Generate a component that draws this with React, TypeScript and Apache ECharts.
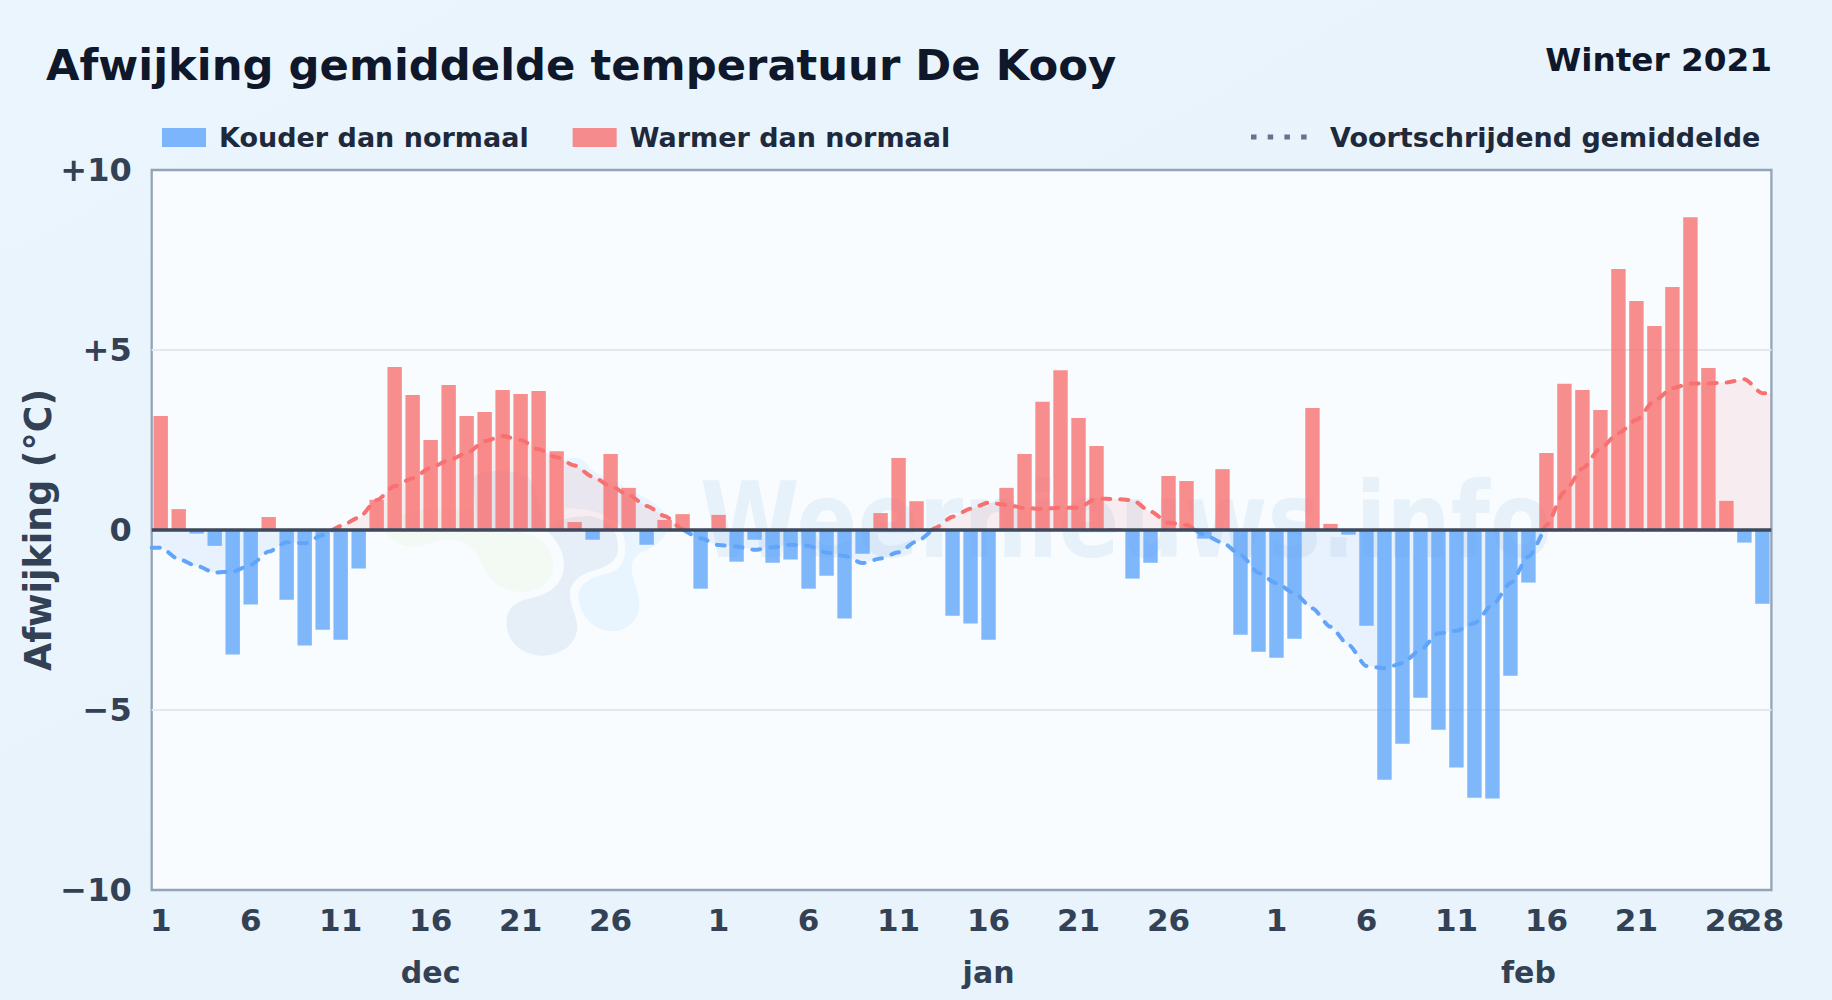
import React, { useEffect, useRef } from "react";
import * as echarts from "echarts";

const FONT = "DejaVu Sans";
const monthNames = ["dec", "jan", "feb"];
const monthLengths = [31, 31, 28];
const monthLabelIndex = [15, 46, 76];
const tickDays = [1, 6, 11, 16, 21, 26];
const yTicks: Record<string, string> = { "10": "+10", "5": "+5", "0": "0", "-5": "\u22125", "-10": "\u221210" };

const anomalies = [
  3.17, 0.58, -0.1, -0.44, -3.46, -2.07, 0.36, -1.94, -3.21, -2.77, -3.05, -1.07, 0.84, 4.53, 3.75, 2.5,
  4.03, 3.17, 3.28, 3.89, 3.78, 3.86, 2.19, 0.22, -0.27, 2.11, 1.17, -0.41, 0.28, 0.44, -1.63,
  0.42, -0.88, -0.27, -0.91, -0.82, -1.63, -1.27, -2.46, -0.66, 0.47, 2.0, 0.8, 0, -2.38, -2.6, -3.05,
  1.17, 2.11, 3.56, 4.44, 3.11, 2.33, 0.05, -1.35, -0.91, 1.5, 1.36, -0.24, 1.69, -2.91, -3.38,
  -3.55, -3.02, 3.39, 0.17, -0.13, -2.66, -6.94, -5.94, -4.66, -5.55, -6.6, -7.44, -7.46, -4.05, -1.46,
  2.14, 4.06, 3.89, 3.33, 7.25, 6.36, 5.67, 6.75, 8.69, 4.5, 0.81, -0.35, -2.05,
];

const movingAverage = [
  -0.49, -0.81, -1.0, -1.18, -1.16, -0.97, -0.6, -0.34, -0.37, -0.14, 0.11, 0.34, 0.83, 1.22, 1.44, 1.73,
  1.94, 2.13, 2.47, 2.61, 2.5, 2.24, 2.02, 1.79, 1.48, 1.22, 0.97, 0.67, 0.39, 0.02, -0.23,
  -0.42, -0.46, -0.55, -0.48, -0.41, -0.44, -0.63, -0.72, -0.92, -0.79, -0.62, -0.32, 0.05, 0.37, 0.59, 0.76,
  0.7, 0.61, 0.59, 0.62, 0.62, 0.87, 0.86, 0.83, 0.51, 0.2, 0.14, -0.14, -0.35, -0.69, -1.19,
  -1.48, -1.76, -2.18, -2.69, -3.19, -3.78, -3.84, -3.7, -3.33, -2.87, -2.8, -2.59, -2.08, -1.48, -0.74,
  0.14, 1.06, 1.71, 2.27, 2.69, 3.06, 3.59, 3.94, 4.07, 4.07, 4.1, 4.19, 3.8,
];

const dayLabels: string[] = [];
const monthAxisLabels: string[] = [];
monthLengths.forEach((len, m) => {
  for (let d = 1; d <= len; d++) {
    dayLabels.push(String(d));
    monthAxisLabels.push("");
  }
  monthAxisLabels[monthLabelIndex[m]] = monthNames[m];
});
const lastIndex = dayLabels.length - 1;
const shownTick = dayLabels.map((d, i) => tickDays.includes(Number(d)) && i !== lastIndex);
// The closing day sits on its own axis so that it may overlap "26", as it does in the reference
const lastDayLabels = dayLabels.map((d, i) => (i === lastIndex ? d : ""));

// Split the moving average into its positive and negative run, with the zero crossings added
function signedRun(values: number[], sign: number) {
  const ext: [number, number][] = [[-0.5, values[0]]];
  values.forEach((v, i) => ext.push([i, v]));
  ext.push([values.length - 0.5, values[values.length - 1]]);
  const out: [number, number | null][] = [];
  ext.forEach(([x, v], k) => {
    out.push([x, v * sign >= 0 ? v : null]);
    if (k < ext.length - 1) {
      const [x2, v2] = ext[k + 1];
      if (v * v2 < 0) out.push([x + ((x2 - x) * Math.abs(v)) / (Math.abs(v) + Math.abs(v2)), 0]);
    }
  });
  return out;
}

const LOGO_GREEN = "M40 270C60 300 100 325 140 320C180 315 210 295 250 300C300 305 325 340 345 390C370 440 420 460 470 455C530 445 555 410 550 370C545 320 510 285 460 280L455 260C400 210 300 200 200 205C120 210 60 230 40 270Z";
const LOGO_GREY = "M530 270C560 240 600 230 650 228C710 230 745 270 745 320C745 360 720 378 680 390C640 400 605 420 600 460C600 500 625 530 622 570C615 625 560 648 515 648C450 645 410 600 410 550C410 500 440 485 480 475C540 465 585 430 582 370C582 330 555 295 530 270ZM310 110C350 85 440 90 475 110C500 150 515 220 530 265L320 265Z";
const LOGO_BLUE = "M625 470C630 420 680 410 730 395C770 380 775 320 755 265C730 220 650 205 585 205L585 60C620 45 650 60 660 85C720 130 860 170 890 230C905 290 860 320 810 340C775 360 785 400 795 430C820 490 815 550 750 572C690 585 630 540 625 470Z";
echarts.graphic.registerShape("logoGreen", echarts.graphic.extendPath(LOGO_GREEN, {}));
echarts.graphic.registerShape("logoGrey", echarts.graphic.extendPath(LOGO_GREY, {}));
echarts.graphic.registerShape("logoBlue", echarts.graphic.extendPath(LOGO_BLUE, {}));

export default function App() {
  const ref = useRef<HTMLDivElement>(null);
  useEffect(() => {
    document.body.style.margin = "0";
    const chart = echarts.init(ref.current!, undefined, { renderer: "svg" });
    const logo = (type: string, fill: string) => ({
      type, x: 370, y: 440, scaleX: 1 / 3, scaleY: 1 / 3, z: 1, silent: true, style: { fill },
    });
    const tickLabel = { margin: 14, fontFamily: FONT, fontWeight: "bold", fontSize: 31, color: "#334155" };
    chart.setOption({
      animation: false,
      backgroundColor: {
        type: "linear", x: 0, y: 0, x2: 1, y2: 1,
        colorStops: [{ offset: 0, color: "#ebf5fd" }, { offset: 0.5, color: "#e8f3fc" }, { offset: 1, color: "#e8f3fc" }],
      },
      textStyle: { fontFamily: FONT },
      title: [
        { text: "Afwijking gemiddelde temperatuur De Kooy", left: 41, top: 38, textStyle: { fontFamily: FONT, fontWeight: "bold", fontSize: 43.3, color: "#0f172a" } },
        { text: "Winter 2021", right: 55, top: 38, textStyle: { fontFamily: FONT, fontWeight: "bold", fontSize: 32.7, color: "#0f172a" } },
      ],
      legend: [
        {
          data: [{ name: "Kouder dan normaal" }, { name: "Warmer dan normaal" }],
          left: 157, top: 119, itemWidth: 44, itemHeight: 19, itemGap: 44, icon: "rect",
          selectedMode: false,
          textStyle: { fontFamily: FONT, fontWeight: "bold", fontSize: 27, color: "#1e293b", padding: [0, 0, 0, 8] },
        },
      ],
      grid: { left: 151.7, top: 170, width: 1619.7, height: 720, show: true, backgroundColor: "#f8fcff", borderColor: "#94a3b8", borderWidth: 2.3 },
      xAxis: [
        {
          type: "category", data: dayLabels, boundaryGap: true, position: "bottom",
          axisLine: { show: false }, axisTick: { show: false }, splitLine: { show: false },
          axisLabel: { ...tickLabel, interval: (i: number) => shownTick[i] },
        },
        {
          type: "category", data: monthAxisLabels, boundaryGap: true, position: "bottom",
          axisLine: { show: false }, axisTick: { show: false },
          axisLabel: { interval: 0, margin: 67, fontFamily: FONT, fontWeight: "bold", fontSize: 30, color: "#334155" },
        },
        { type: "value", min: -0.5, max: 89.5, show: false, splitLine: { show: false } },
        {
          type: "category", data: lastDayLabels, boundaryGap: true, position: "bottom",
          axisLine: { show: false }, axisTick: { show: false },
          axisLabel: { ...tickLabel, interval: 0, showMaxLabel: true },
        },
      ],
      yAxis: {
        type: "value", min: -10, max: 10, interval: 5,
        name: "Afwijking (\u00b0C)", nameLocation: "middle", nameGap: 95, nameMoveOverlap: false,
        nameTextStyle: { fontFamily: FONT, fontWeight: "bold", fontSize: 36.4, color: "#334155" },
        axisLine: { show: false }, axisTick: { show: false },
        axisLabel: { margin: 20, fontFamily: FONT, fontWeight: "bold", fontSize: 32, color: "#334155", formatter: (v: number) => yTicks[String(v)] },
        splitLine: { showMinLine: false, showMaxLine: false, lineStyle: { color: "#e2e8f0", width: 2 } },
      },
      graphic: [
        logo("logoGreen", "#f3f9f3"),
        logo("logoBlue", "#e8f4fe"),
        logo("logoGrey", "#e6eff8"),
        { type: "text", x: 700, y: 468, scaleX: 0.86, z: 1, silent: true, style: { text: "Weernieuws.info", fontFamily: FONT, fontWeight: "bold", fontSize: 105, fill: "#e7f1fa" } },
        { type: "line", z: 6, silent: true, shape: { x1: 1251, y1: 137, x2: 1308, y2: 137 }, style: { stroke: "#64748b", lineWidth: 5, lineDash: [5.5, 11.2] } },
        { type: "text", x: 1330, y: 137, z: 6, silent: true, style: { text: "Voortschrijdend gemiddelde", fontFamily: FONT, fontWeight: "bold", fontSize: 27, fill: "#1e293b", verticalAlign: "middle" } },
      ],
      series: [
        {
          type: "line", xAxisIndex: 2, name: "Gemiddelde warm", z: 3, data: signedRun(movingAverage, 1), showSymbol: false, symbol: "none",
          smooth: 0.25, smoothMonotone: "x", connectNulls: false,
          lineStyle: { color: "#f87171", width: 4, type: [8, 10], cap: "round" },
          areaStyle: { color: "rgba(248,113,113,0.15)" },
        },
        {
          type: "line", xAxisIndex: 2, name: "Gemiddelde koud", z: 3, data: signedRun(movingAverage, -1), showSymbol: false, symbol: "none",
          smooth: 0.25, smoothMonotone: "x", connectNulls: false,
          lineStyle: { color: "#60a5fa", width: 4, type: [8, 10], cap: "round" },
          areaStyle: { color: "rgba(96,165,250,0.15)" },
        },
        {
          type: "bar", name: "Kouder dan normaal", z: 4, xAxisIndex: 0, barWidth: 14.4, barGap: "-100%",
          data: anomalies.map((v) => (v < 0 ? v : null)),
          itemStyle: { color: "rgba(96,165,250,0.8)" },
          markLine: { silent: true, symbol: "none", z: 8, label: { show: false }, lineStyle: { color: "#3b4a5e", width: 3.5, type: "solid" }, data: [{ yAxis: 0 }] },
        },
        {
          type: "bar", name: "Warmer dan normaal", z: 4, xAxisIndex: 0, barWidth: 14.4, barGap: "-100%",
          data: anomalies.map((v) => (v >= 0 ? v : null)),
          itemStyle: { color: "rgba(248,113,113,0.8)" },
        },
      ],
    });
    return () => chart.dispose();
  }, []);
  return <div ref={ref} style={{ position: "absolute", left: 0, top: 0, width: 1832, height: 1000 }} />;
}
